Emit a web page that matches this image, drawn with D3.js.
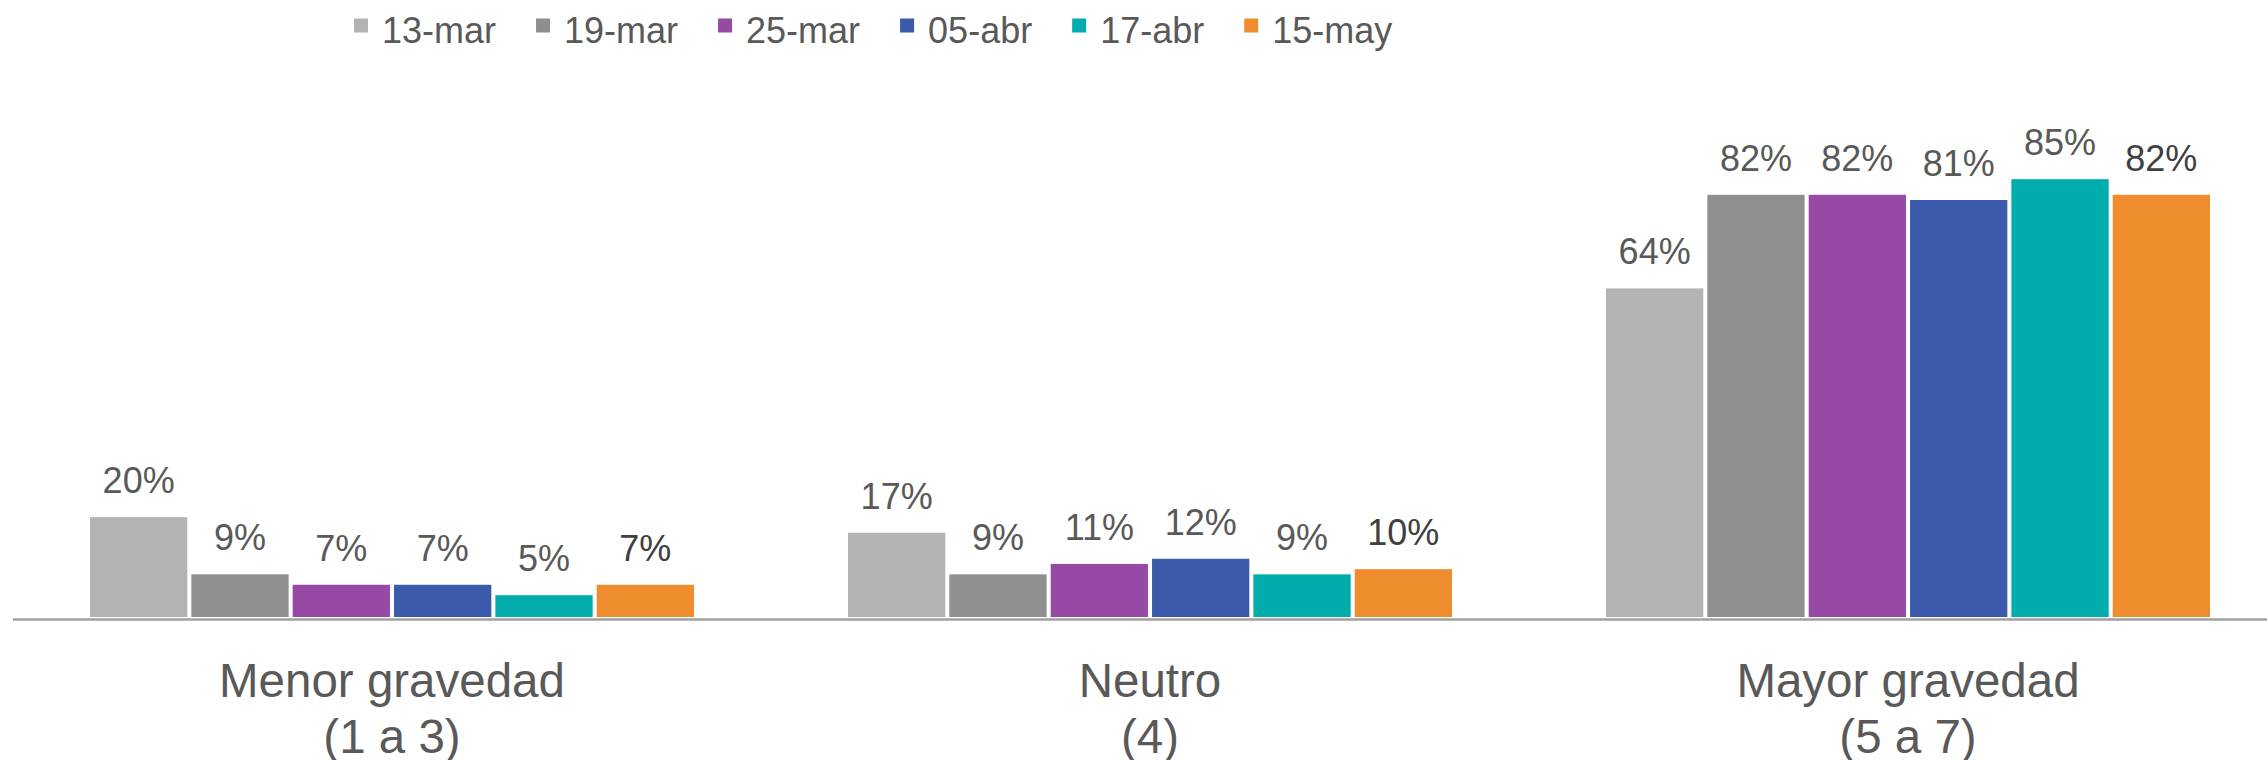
<!DOCTYPE html>
<html lang="es">
<head>
  <meta charset="UTF-8">
  <title>Gravedad percibida</title>
  <script src="https://cdn.jsdelivr.net/npm/d3@7"></script>
  <style>
    body { margin: 0; background: #fff; }
    text { font-family: "Liberation Sans", Arial, sans-serif; }
  </style>
</head>
<body>
  <div id="chart"></div>
  <script>
    // Chart data
    const categories = ["Menor gravedad", "Neutro", "Mayor gravedad"];
    const categorySub = ["(1 a 3)", "(4)", "(5 a 7)"];
    const series = ["13-mar", "19-mar", "25-mar", "05-abr", "17-abr", "15-may"];
    const menor = [20, 9, 7, 7, 5, 7];
    const neutro = [17, 9, 11, 12, 9, 10];
    const mayor = [64, 82, 82, 81, 85, 82];
    const colors = ["#b3b3b3", "#8f8f8f", "#9749a6", "#3c5aab", "#00acac", "#ee8c2e"];

    const values = [menor, neutro, mayor];

    const W = 2267, H = 760;
    const svg = d3.select("#chart")
      .append("svg")
        .attr("width", W)
        .attr("height", H);

    // scales
    const x0 = d3.scaleBand()
      .domain(categories)
      .range([13, 2287])
      .padding(0);

    const groupW = 604;
    const x1 = d3.scaleBand()
      .domain(series)
      .range([0, groupW])
      .paddingInner(0.04)
      .paddingOuter(0);

    const y = d3.scaleLinear()
      .domain([0.8, 100])
      .range([617, 101.2]);

    // bars
    const groups = svg.selectAll("g.cat")
      .data(categories)
      .join("g")
        .attr("class", "cat")
        .attr("transform", d => `translate(${x0(d) + (x0.bandwidth() - groupW) / 2},0)`);

    groups.selectAll("rect")
      .data((c, i) => series.map((s, j) => ({ s, j, v: values[i][j] })))
      .join("rect")
        .attr("x", d => x1(d.s))
        .attr("y", d => y(d.v))
        .attr("width", x1.bandwidth())
        .attr("height", d => y(0.8) - y(d.v))
        .attr("fill", d => colors[d.j]);

    groups.selectAll("text.val")
      .data((c, i) => series.map((s, j) => ({ s, j, v: values[i][j] })))
      .join("text")
        .attr("class", "val")
        .attr("x", d => x1(d.s) + x1.bandwidth() / 2)
        .attr("y", d => y(d.v) - 24)
        .attr("text-anchor", "middle")
        .attr("font-size", 36)
        .attr("fill", d => d.j === 5 ? "#404040" : "#595959")
        .text(d => d.v + "%");

    // x axis line
    svg.append("line")
      .attr("x1", 13)
      .attr("x2", W)
      .attr("y1", 619.5)
      .attr("y2", 619.5)
      .attr("stroke", "#a0a0a0")
      .attr("stroke-width", 2.5);

    // category labels
    const catLabels = svg.selectAll("text.cat")
      .data(categories)
      .join("text")
        .attr("class", "cat")
        .attr("text-anchor", "middle")
        .attr("font-size", 47.5)
        .attr("fill", "#595959");
    catLabels.append("tspan")
      .attr("x", d => x0(d) + x0.bandwidth() / 2)
      .attr("y", 697)
      .text(d => d);
    catLabels.append("tspan")
      .attr("x", d => x0(d) + x0.bandwidth() / 2)
      .attr("y", 753)
      .text((d, i) => categorySub[i]);

    // legend
    const legend = svg.append("g");
    let lx = 354;
    series.forEach((s, j) => {
      legend.append("rect")
        .attr("x", lx)
        .attr("y", 18.5)
        .attr("width", 14)
        .attr("height", 14)
        .attr("fill", colors[j]);
      const t = legend.append("text")
        .attr("x", lx + 28)
        .attr("y", 42.5)
        .attr("font-size", 36)
        .attr("fill", "#595959")
        .text(s);
      lx += 28 + t.node().getComputedTextLength() + 40;
    });
  </script>
</body>
</html>
